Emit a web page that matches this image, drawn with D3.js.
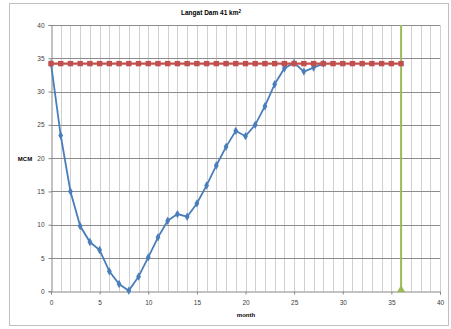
<!DOCTYPE html>
<html><head><meta charset="utf-8">
<script src="https://cdn.jsdelivr.net/npm/d3@7"></script>
<style>
html,body{margin:0;padding:0;background:#fff;}
svg text{font-family:"Liberation Sans","DejaVu Sans",sans-serif;fill:#404040;}
</style></head>
<body>
<svg id="c" width="451" height="329"></svg>
<script>
const title = "Langat Dam 41 km";
const blueMonths = [0,1,2,3,4,5,6,7,8,9,10,11,12,13,14,15,16,17,18,19,20,21,22,23,24,25,26,27,28];
const blueValues = [34.2,23.4,15.0,9.8,7.4,6.2,3.0,1.1,0.1,2.2,5.1,8.1,10.6,11.6,11.2,13.2,15.9,18.9,21.7,24.1,23.3,25.0,27.8,31.1,33.5,34.3,33.0,33.6,34.2];
const redMonths = [0,1,2,3,4,5,6,7,8,9,10,11,12,13,14,15,16,17,18,19,20,21,22,23,24,25,26,27,28,29,30,31,32,33,34,35,36];
const redValues = redMonths.map(() => 34.2);
const greenX = [36,36];
const greenY = [0,40];
const xTicks = [0,5,10,15,20,25,30,35,40];
const yTicks = [0,5,10,15,20,25,30,35,40];

const svg = d3.select("#c");
svg.append("rect").attr("x",9.5).attr("y",3.5).attr("width",439).attr("height",322)
  .attr("fill","#fff").attr("stroke","#bfbfbf").attr("stroke-width",1);

const x = d3.scaleLinear().domain([0,40]).range([51,440]);
const y = d3.scaleLinear().domain([0,40]).range([291.3,25]);

const g = svg.append("g");
g.selectAll("line.vg").data(d3.range(1,41)).enter().append("line")
  .attr("x1",d=>Math.round(x(d))+0.5).attr("x2",d=>Math.round(x(d))+0.5)
  .attr("y1",y(40)).attr("y2",y(0))
  .attr("stroke","#d0d0d0").attr("stroke-width",1);
g.selectAll("line.hg").data(yTicks.slice(1)).enter().append("line")
  .attr("x1",x(0)).attr("x2",x(40))
  .attr("y1",d=>Math.round(y(d))+0.5).attr("y2",d=>Math.round(y(d))+0.5)
  .attr("stroke","#8c8c8c").attr("stroke-width",1);

const xAxis = d3.axisBottom(x).tickValues(xTicks).tickSize(3).tickPadding(6);
const yAxis = d3.axisLeft(y).tickValues(yTicks).tickSize(3).tickPadding(4);
const gx = svg.append("g").attr("transform",`translate(0,${Math.round(y(0))+0.5})`).call(xAxis);
const gy = svg.append("g").attr("transform",`translate(${Math.round(x(0))+0.5},0)`).call(yAxis);
[gx,gy].forEach(a=>{
  a.select(".domain").attr("stroke","#868686");
  a.selectAll(".tick line").attr("stroke","#868686");
  a.selectAll(".tick text").attr("font-size","6.5px").attr("fill","#404040")
   .style("font-family","Liberation Sans, sans-serif");
});

svg.append("line").attr("x1",x(greenX[0])).attr("x2",x(greenX[1]))
  .attr("y1",y(greenY[0])).attr("y2",y(greenY[1]))
  .attr("stroke","#9bbb59").attr("stroke-width",2);
svg.append("path").attr("d",d3.symbol().type(d3.symbolTriangle).size(30)())
  .attr("transform",`translate(${x(greenX[0])},${y(greenY[0])-1.5})`).attr("fill","#9bbb59");

const line = d3.line().x(d=>x(d[0])).y(d=>y(d[1]));
const red = redMonths.map((m,i)=>[m,redValues[i]]);
const blue = blueMonths.map((m,i)=>[m,blueValues[i]]);
svg.append("path").datum(blue).attr("d",line).attr("fill","none")
  .attr("stroke","#4a7ebb").attr("stroke-width",1.8);
svg.selectAll("path.bm").data(blue).enter().append("path")
  .attr("d",d3.symbol().type(d3.symbolDiamond).size(20)())
  .attr("transform",d=>`translate(${x(d[0])},${y(d[1])})`).attr("fill","#4a7ebb");
svg.append("path").datum(red).attr("d",line).attr("fill","none")
  .attr("stroke","#c0504d").attr("stroke-width",2.2);
svg.selectAll("rect.rm").data(red).enter().append("rect")
  .attr("x",d=>x(d[0])-2.7).attr("y",d=>y(d[1])-2.7).attr("width",5.4).attr("height",5.4)
  .attr("fill","#c0504d");

const t = svg.append("text").attr("x",211).attr("y",15).attr("text-anchor","middle")
  .attr("font-size","6.5px").attr("font-weight","bold").style("fill","#000");
t.append("tspan").text(title);
t.append("tspan").attr("dy","-2.5").attr("font-size","4.5px").text("2");

svg.append("text").attr("x",25).attr("y",160.5).attr("text-anchor","middle")
  .attr("font-size","6px").attr("font-weight","bold").style("fill","#000").text("MCM");
svg.append("text").attr("x",246).attr("y",317).attr("text-anchor","middle")
  .attr("font-size","6px").attr("font-weight","bold").style("fill","#000").text("month");
</script>
</body></html>
